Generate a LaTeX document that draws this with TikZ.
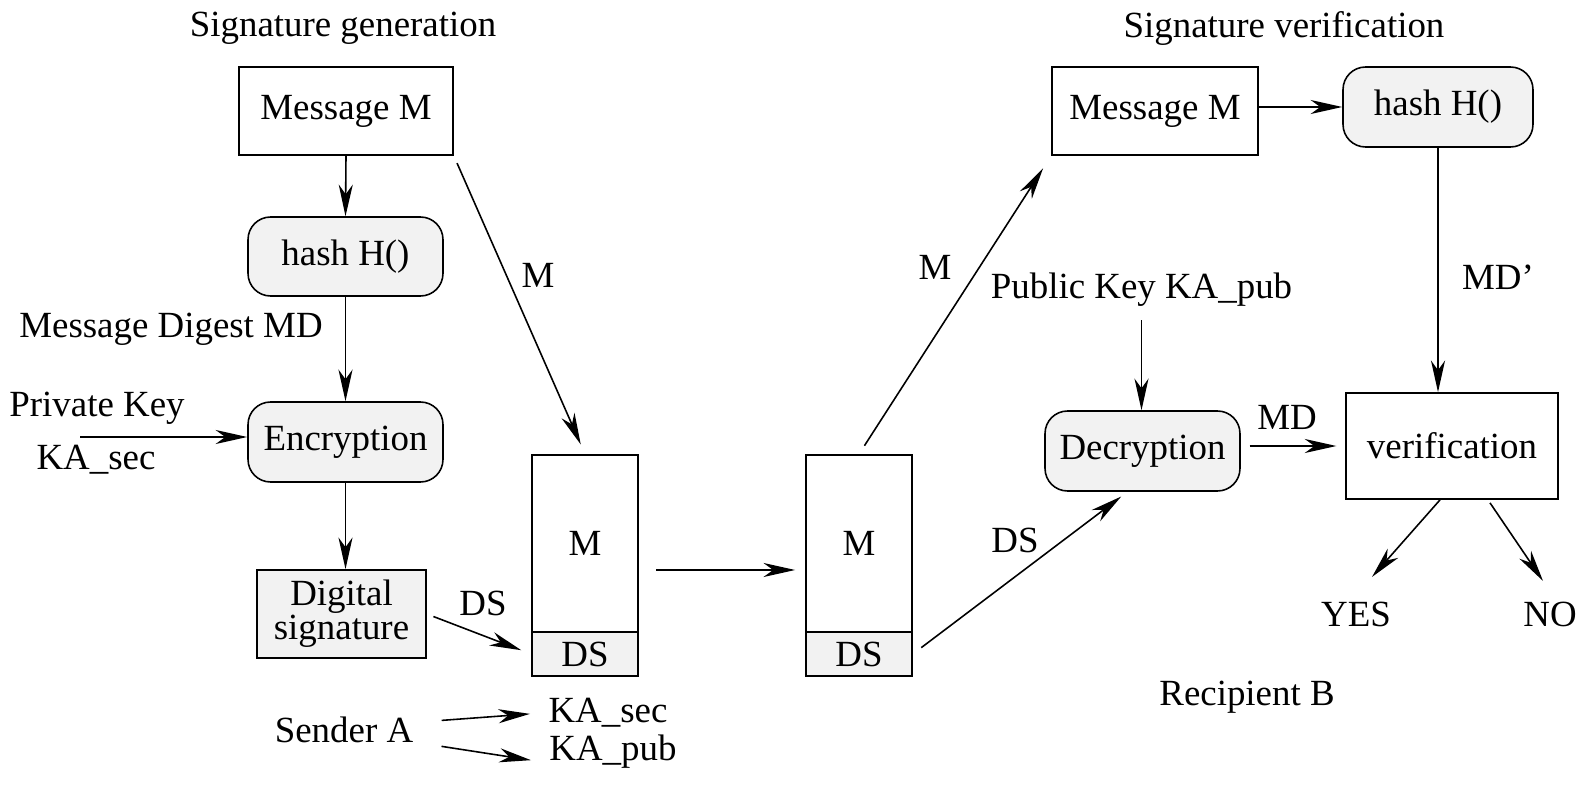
\documentclass[tikz,border=0pt]{standalone}
\usepackage{fontspec}
\setmainfont{Liberation Serif}
\usetikzlibrary{arrows.meta}
\tikzstyle{box}=[draw, rectangle, inner sep=0pt, line width=1pt]
\tikzstyle{op}=[draw, rectangle, rounded corners=0.45cm, fill=gray!10, inner sep=0pt]
\tikzstyle{link}=[-{Stealth[length=18pt,width=8pt,inset=5.5pt]}]

\begin{document}
\begin{tikzpicture}[x=0.02cm,y=-0.02cm,line width=0.9pt,font=\fontsize{21}{24}\selectfont]
  \useasboundingbox (0,0) rectangle (1582,790);
  % sender side
  \node at (343,28) (gen) {Signature generation};
  \node[box,minimum width=4.28cm,minimum height=1.76cm] at (346,111) (msg) {Message M};
  \node[op,minimum width=3.9cm,minimum height=1.58cm] at (345.5,256.5) (hash) {hash H()};
  \node at (171,329) (md) {Message Digest MD};
  \node[op,minimum width=3.9cm,minimum height=1.6cm] at (345.5,442) (enc) {Encryption};
  \node at (97,408) (pk) {Private Key};
  \node at (96,460) (ksec) {KA\_sec};
  \coordinate (pkin) at (80,437);
  \node[box,fill=gray!10,minimum width=3.38cm,minimum height=1.76cm,align=center,
    font=\fontsize{21}{19.3}\selectfont] at (341.5,614) (dsig) {Digital\\signature};
  \node[box,minimum width=2.12cm,minimum height=3.54cm] at (585,543.5) (pkt) {M};
  \node[box,fill=gray!10,minimum width=2.12cm,minimum height=0.88cm] at (585,654) (pktds) {DS};
  \node at (344,730) (snd) {Sender A};
  \node at (608,713) (kasec) {KA\_sec};
  \node at (613,752) (kapub) {KA\_pub};

  \draw[link] (msg.south) -- (hash.north);
  \draw[link] (hash.south) -- (enc.north);
  \draw[link] (enc.south) -- (enc.south |- dsig.north);
  \draw[link] (pkin) -- (pkin -| enc.west);
  \draw[link,shorten <=4.5pt,shorten >=6pt] (msg.south east) -- (pkt.north);
  \node at (538,275) (mlbl1) {M};
  \draw[link,shorten <=4pt,shorten >=6pt] (dsig.east) -- (pktds.west);
  \node at (483,603) (dslbl) {DS};
  \draw[link,shorten <=12.5pt,shorten >=6.8pt] ([yshift=0.16cm]snd.east) -- (kasec.west);
  \draw[link,shorten <=12.5pt,shorten >=6.8pt] ([yshift=-0.26cm]snd.east) -- ([yshift=-0.2cm]kapub.west);

  % transfer
  \node[box,minimum width=2.12cm,minimum height=3.54cm] at (859,543.5) (pkt2) {M};
  \node[box,fill=gray!10,minimum width=2.12cm,minimum height=0.88cm] at (859,654) (pktds2) {DS};
  \draw[link,shorten <=10pt,shorten >=5.7pt] ([yshift=-0.53cm]pkt.east) -- ([yshift=-0.53cm]pkt2.west);

  % recipient side
  \node at (1284,28) (ver) {Signature verification};
  \node[box,minimum width=4.12cm,minimum height=1.76cm] at (1155,111) (msg2) {Message M};
  \node[op,minimum width=3.8cm,minimum height=1.6cm] at (1438,107) (hash2) {hash H()};
  \node at (1141.5,290) (pub) {Public Key KA\_pub};
  \node[op,minimum width=3.9cm,minimum height=1.6cm] at (1142.5,451) (dec) {Decryption};
  \node[box,minimum width=4.24cm,minimum height=2.12cm] at (1452,446) (verif) {verification};
  \node at (1356,614) (yes) {YES};
  \node at (1550,614) (no) {NO};
  \node at (1247,697) (rcp) {Recipient B};

  \draw[link,shorten <=5.7pt,shorten >=8.5pt] (pkt2.north) -- (msg2.south west);
  \node at (935,267) (mlbl) {M};
  \draw[link,shorten <=6pt,shorten >=4.5pt] (pktds2.east) -- ([xshift=-0.3cm]dec.south);
  \node at (1015,540) (dslbl2) {DS};
  \draw[link] (msg2.east |- hash2.west) -- (hash2.west);
  \draw[link] (hash2.south) -- (hash2.south |- verif.north);
  \node at (1498,277) (mdp) {MD'};
  \draw[link,shorten <=4pt] (pub.south) -- (pub.south |- dec.north);
  \draw[link,shorten <=5pt,shorten >=5pt] (verif.west -| dec.east) -- (verif.west);
  \node at (1287,417) (mdl) {MD};
  \draw[link] ([xshift=-0.24cm]verif.south) -- ([xshift=0.32cm,yshift=0.36cm]yes.north);
  \draw[link] ([xshift=0.76cm,yshift=-0.06cm]verif.south) -- ([xshift=-0.14cm,yshift=0.28cm]no.north);
\end{tikzpicture}
\end{document}
